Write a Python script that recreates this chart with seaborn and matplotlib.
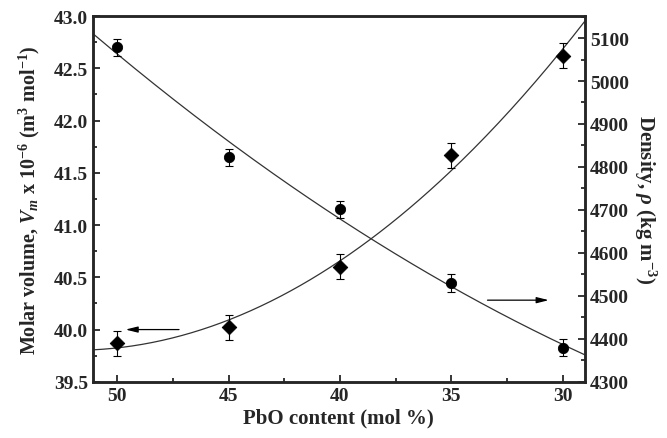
import numpy as np
import matplotlib
matplotlib.use('Agg')
import matplotlib.pyplot as plt
import seaborn as sns
from matplotlib.ticker import MultipleLocator

# --- data ---
pbo = [50, 45, 40, 35, 30]
molar_volume = [39.87, 40.02, 40.60, 41.67, 42.62]
molar_volume_err = [0.12, 0.12, 0.12, 0.12, 0.12]
density = [5078, 4822, 4701, 4530, 4379]
density_err = [20, 20, 20, 20, 20]

sns.set_style('ticks')
plt.rcParams['font.family'] = ['Liberation Serif', 'DejaVu Serif']
plt.rcParams['font.weight'] = 'bold'
plt.rcParams['mathtext.fontset'] = 'custom'
plt.rcParams['mathtext.it'] = 'Liberation Serif:bold:italic'
plt.rcParams['mathtext.rm'] = 'Liberation Serif:bold'
plt.rcParams['mathtext.bf'] = 'Liberation Serif:bold'

fig = plt.figure(figsize=(6.67, 4.39), dpi=100)
ax = fig.add_axes([0.139, 0.128, 0.738, 0.833])
ax2 = ax.twinx()

# fitted curves (quadratic through the points)
xs = np.linspace(51.1, 29.0, 200)
c_vm = np.polyfit(pbo, molar_volume, 2)
c_rho = np.polyfit(pbo, density, 2)
sns.lineplot(x=xs, y=np.polyval(c_vm, xs), ax=ax, color='#333333', lw=0.9)
sns.lineplot(x=xs, y=np.polyval(c_rho, xs), ax=ax2, color='#333333', lw=0.9)

# markers with error bars
ax.errorbar(pbo, molar_volume, yerr=molar_volume_err, fmt='none', ecolor='black',
            elinewidth=0.8, capsize=3, capthick=0.8)
sns.scatterplot(x=pbo, y=molar_volume, ax=ax, marker='D', s=55, color='black',
                edgecolor='black', zorder=5)
ax2.errorbar(pbo, density, yerr=density_err, fmt='none', ecolor='black',
             elinewidth=0.8, capsize=3, capthick=0.8)
sns.scatterplot(x=pbo, y=density, ax=ax2, marker='o', s=55, color='black',
                edgecolor='black', zorder=5)

# arrows pointing to the axes
ax.annotate('', xy=(49.75, 40.0), xytext=(47.1, 40.0),
            arrowprops=dict(arrowstyle='-|>,head_length=0.8,head_width=0.2',
                            color='black', lw=0.9, mutation_scale=9))
ax2.annotate('', xy=(30.5, 4490), xytext=(33.5, 4490),
             arrowprops=dict(arrowstyle='-|>,head_length=0.8,head_width=0.2',
                             color='black', lw=0.9, mutation_scale=9))

ax.set_xlim(51.1, 29.0)
ax.set_ylim(39.5, 43.0)
ax2.set_ylim(4300, 5151)

ax.xaxis.set_major_locator(MultipleLocator(5))
ax.xaxis.set_minor_locator(MultipleLocator(2.5))
ax.yaxis.set_major_locator(MultipleLocator(0.5))
ax.yaxis.set_minor_locator(MultipleLocator(0.25))
ax.yaxis.set_major_formatter(matplotlib.ticker.FormatStrFormatter('%.1f'))
ax2.yaxis.set_major_locator(MultipleLocator(100))
ax2.yaxis.set_minor_locator(MultipleLocator(50))

for a in (ax, ax2):
    for s in a.spines.values():
        s.set_linewidth(1.8)
        s.set_visible(True)
    a.tick_params(which='both', direction='in', width=1.3, labelsize=14)
    a.tick_params(which='major', length=5)
    a.tick_params(which='minor', length=3)
ax.tick_params(top=False, which='both')
ax2.tick_params(top=False, which='both')

ax.set_xlabel('PbO content (mol %)', fontsize=15, fontweight='bold', labelpad=3)
ax.set_ylabel(r'Molar volume, $V_m$ x 10$^{-6}$ (m$^3$ mol$^{-1}$)', fontsize=14.5,
              fontweight='bold', labelpad=8)
ax2.set_ylabel(r'Density, $\rho$ (kg m$^{-3}$)', fontsize=15, fontweight='bold',
               rotation=270, labelpad=21)

fig.savefig('out.png', dpi=100)
